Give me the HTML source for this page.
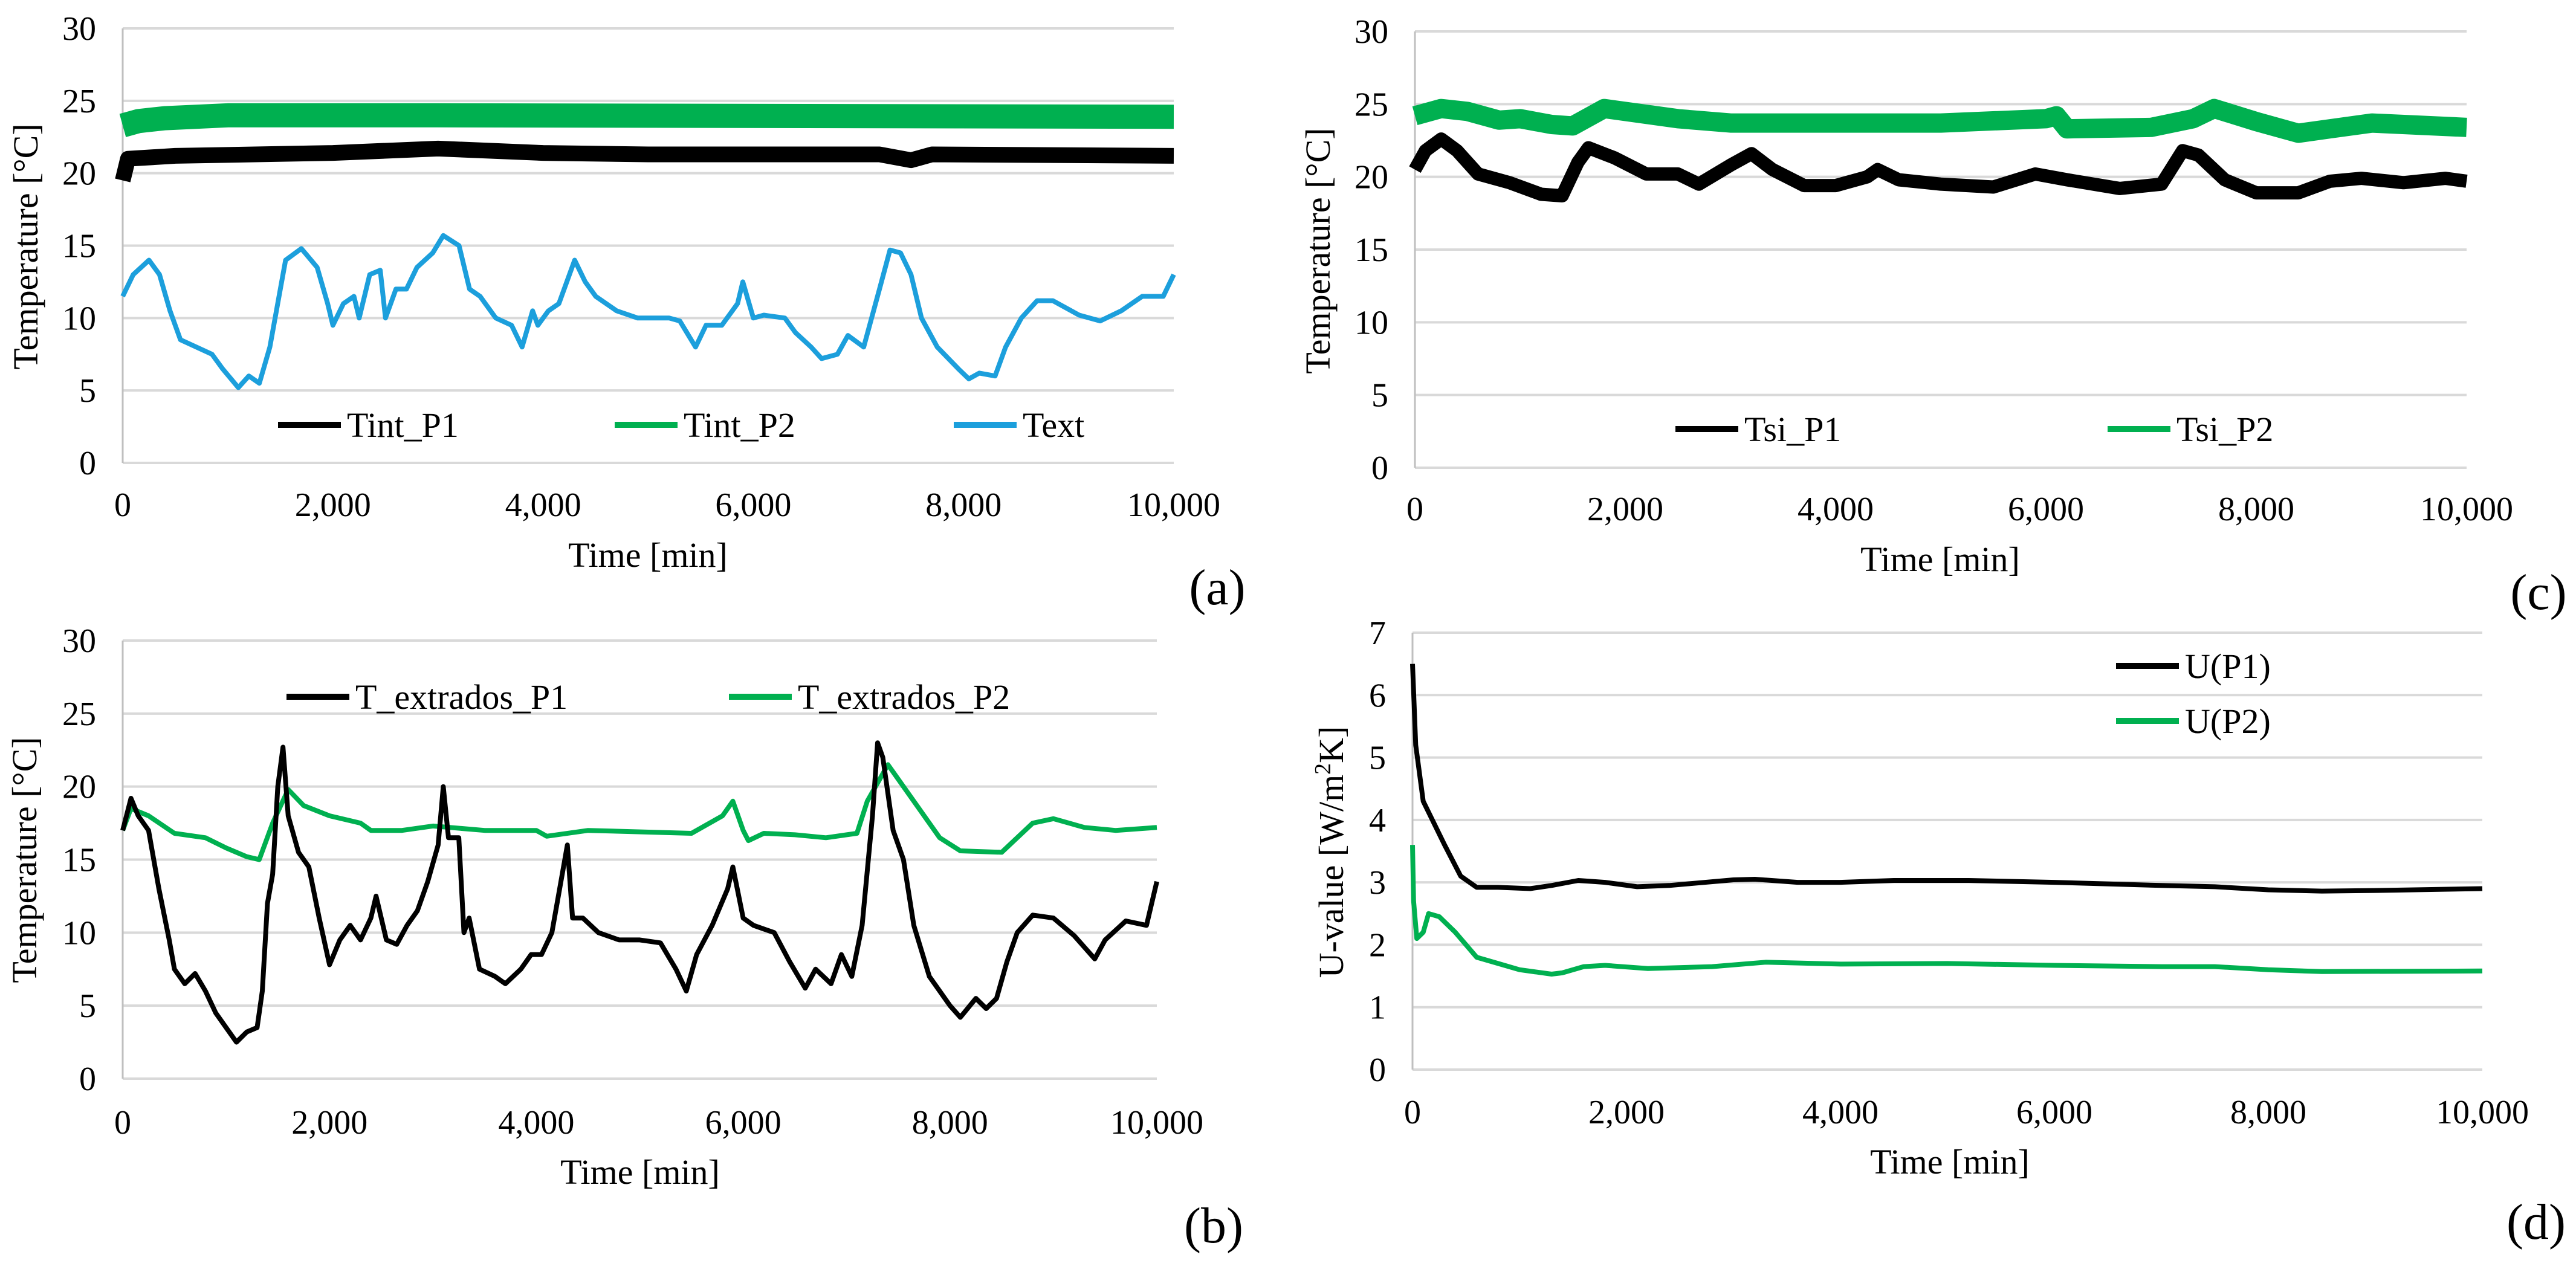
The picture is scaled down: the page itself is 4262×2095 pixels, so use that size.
<!DOCTYPE html>
<html><head><meta charset="utf-8"><style>
html,body{margin:0;padding:0;background:#fff}
svg{display:block;font-family:"Liberation Serif",serif}
</style></head><body>
<svg id="c" width="4262" height="2095" viewBox="0 0 4262 2095"></svg>
<script>
// ---- data (x in minutes) ----
const textX=[0,100,250,350,450,550,700,850,950,1100,1200,1300,1400,1500,1550,1700,1850,1950,2000,2100,2200,2250,2350,2450,2500,2600,2700,2800,2950,3050,3200,3300,3400,3550,3700,3800,3900,3950,4050,4150,4300,4400,4500,4700,4900,5200,5300,5450,5550,5700,5850,5900,6000,6100,6300,6400,6550,6650,6800,6900,7050,7200,7300,7400,7500,7600,7750,7950,8050,8150,8300,8400,8550,8700,8850,9100,9300,9500,9700,9900,10000];
const textY=[11.5,13,14,13,10.5,8.5,8,7.5,6.5,5.2,6,5.5,8,12,14,14.8,13.5,11,9.5,11,11.5,10,13,13.3,10,12,12,13.5,14.5,15.7,15,12,11.5,10,9.5,8,10.5,9.5,10.5,11,14,12.5,11.5,10.5,10,10,9.8,8,9.5,9.5,11,12.5,10,10.2,10,9,8,7.2,7.5,8.8,8,12,14.7,14.5,13,10,8,6.5,5.8,6.2,6,8,10,11.2,11.2,10.2,9.8,10.5,11.5,11.5,13];
const tintP2X=[0,150,400,1000,3000,10000];
const tintP2Y=[23.3,23.6,23.8,24,24,23.9];
const tintP1X=[0,50,500,2000,3000,4000,5000,7200,7500,7700,10000];
const tintP1Y=[19.5,21,21.2,21.4,21.7,21.4,21.3,21.3,20.9,21.3,21.2];
const tsiP2X=[0,250,500,800,1000,1300,1500,1800,2500,3000,5000,6000,6100,6200,7000,7400,7600,8000,8400,8700,9100,10000];
const tsiP2Y=[24.2,24.7,24.5,23.9,24.0,23.6,23.5,24.7,24,23.7,23.7,24.0,24.2,23.3,23.4,24,24.7,23.8,23,23.3,23.7,23.4];
const tsiP1X=[0,100,250,400,600,900,1200,1400,1550,1650,1900,2200,2500,2700,3000,3200,3400,3700,4000,4300,4400,4600,5000,5500,5900,6200,6700,7100,7300,7450,7700,8000,8400,8700,9000,9400,9800,10000];
const tsiP1Y=[20.5,21.8,22.6,21.8,20.2,19.6,18.8,18.7,21,22,21.3,20.2,20.2,19.5,20.8,21.6,20.5,19.4,19.4,20,20.5,19.8,19.5,19.3,20.2,19.8,19.2,19.5,21.8,21.5,19.8,18.9,18.9,19.7,19.9,19.6,19.9,19.7];
const extP1X=[0,80,150,250,350,450,500,600,700,800,900,1000,1100,1200,1300,1350,1400,1450,1500,1550,1600,1700,1800,1900,2000,2100,2200,2300,2400,2450,2550,2650,2750,2850,2950,3050,3100,3150,3250,3300,3350,3450,3600,3700,3850,3950,4050,4150,4250,4300,4350,4450,4600,4800,5000,5200,5350,5450,5550,5700,5850,5900,6000,6100,6300,6450,6600,6700,6850,6950,7050,7150,7250,7300,7350,7450,7550,7650,7800,8000,8100,8250,8350,8450,8550,8650,8800,9000,9200,9400,9500,9700,9900,10000];
const extP1Y=[17,19.2,18,17,13,9.5,7.5,6.5,7.2,6,4.5,3.5,2.5,3.2,3.5,6,12,14,20,22.7,18,15.5,14.5,11,7.8,9.5,10.5,9.5,11,12.5,9.5,9.2,10.5,11.5,13.5,16,20,16.5,16.5,10,11,7.5,7,6.5,7.5,8.5,8.5,10,14,16,11,11,10,9.5,9.5,9.3,7.5,6,8.5,10.5,13,14.5,11,10.5,10,8,6.2,7.5,6.5,8.5,7,10.5,18,23,22,17,15,10.5,7,5,4.2,5.5,4.8,5.5,8,10,11.2,11,9.8,8.2,9.5,10.8,10.5,13.5];
const extP2X=[0,80,250,500,800,1000,1200,1320,1450,1600,1750,2000,2300,2400,2700,3000,3500,4000,4100,4500,5500,5800,5900,6000,6050,6200,6500,6800,7100,7200,7400,7600,7900,8100,8500,8800,9000,9300,9600,10000];
const extP2Y=[17,18.5,18,16.8,16.5,15.8,15.2,15,17.5,19.8,18.7,18,17.5,17,17,17.3,17,17,16.6,17,16.8,18,19,17,16.3,16.8,16.7,16.5,16.8,19,21.5,19.5,16.5,15.6,15.5,17.5,17.8,17.2,17,17.2];
const uP1X=[0,30,100,300,450,600,800,1100,1300,1550,1800,2100,2400,2600,3000,3200,3600,4000,4500,5200,6000,7000,7500,8000,8500,9000,10000];
const uP1Y=[6.5,5.2,4.3,3.6,3.1,2.92,2.92,2.9,2.95,3.03,3.0,2.93,2.95,2.98,3.04,3.05,3.0,3.0,3.03,3.03,3.0,2.95,2.93,2.88,2.86,2.87,2.9];
const uP2X=[0,10,40,100,150,250,400,600,800,1000,1300,1400,1600,1800,2200,2800,3300,4000,5000,6000,7000,7500,8000,8500,10000];
const uP2Y=[3.6,2.7,2.1,2.2,2.5,2.45,2.2,1.8,1.7,1.6,1.53,1.55,1.65,1.67,1.62,1.65,1.72,1.69,1.7,1.67,1.65,1.65,1.6,1.57,1.58];
const xTicks=[0,2000,4000,6000,8000,10000];
const xTickLabels=["0","2,000","4,000","6,000","8,000","10,000"];

const NS="http://www.w3.org/2000/svg";
const svg=document.getElementById('c');
function mk(tag,attrs,parent){const e=document.createElementNS(NS,tag);for(const k in attrs)e.setAttribute(k,attrs[k]);(parent||svg).appendChild(e);return e;}
const GREEN="#00b050",BLUE="#1c9fdc";

function panel(p){
  const g=mk('g',{});
  
  
  const sx=v=>p.x0+(v/10000)*(p.x1-p.x0);
  const sy=v=>p.y0-(v/p.ymax)*(p.y0-p.yTop);
  for(let v=0;v<=p.ymax;v+=p.ystep){
    const gl=mk('line',{x1:p.x0,x2:p.x1,y1:sy(v),y2:sy(v),stroke:'#d9d9d9','stroke-width':4},g);
    
    
    const t=mk('text',{x:p.x0-44,y:sy(v)+19,'text-anchor':'end','font-size':56,fill:'#000'},g);
    t.textContent=String(v);
    
    
  }
  const ax=mk('line',{x1:p.x0,x2:p.x0,y1:p.yTop,y2:p.y0,stroke:'#bfbfbf','stroke-width':3},g);
  
  
  xTicks.forEach((v,i)=>{
    const t=mk('text',{x:sx(v),y:p.tickY,'text-anchor':'middle','font-size':56},g);
    t.textContent=xTickLabels[i];
    
    
  });
  const xt=mk('text',{x:p.xtX,y:p.xtY,'text-anchor':'middle','font-size':58},g);
  xt.textContent='Time [min]';
  
  
  const yt=mk('text',{x:0,y:0,'text-anchor':'middle','font-size':58,transform:`translate(${p.ytX},${p.ytY}) rotate(-90)`},g);
  yt.innerHTML=p.ytitle;
  
  
  p.series.forEach(s=>{
    const d=s.x.map((v,i)=>(i?'L':'M')+sx(v).toFixed(1)+','+sy(s.y[i]).toFixed(1)).join(' ');
    const path=mk('path',{d:d,fill:'none',stroke:s.color,'stroke-width':s.w,'stroke-linejoin':'round','stroke-linecap':'butt'},g);
    
    
  });
  p.legend.forEach(l=>{
    const lg=mk('line',{x1:l.lx,x2:l.lx+104,y1:l.y,y2:l.y,stroke:l.color,'stroke-width':10},g);
    
    
    const t=mk('text',{x:l.lx+114,y:l.y+20,'font-size':58},g);
    t.innerHTML=l.label;
    
    
  });
  const pl=mk('text',{x:p.plX,y:p.plY,'text-anchor':'middle','font-size':84},g);
  pl.textContent=p.plabel;
  
  
}

panel({name:'chart-a',x0:203,x1:1942,yTop:47,y0:766,ymax:30,ystep:5,tickY:854,xtX:1072,xtY:938,ytX:62,ytY:408,ytitle:'Temperature [°C]',plX:2014,plY:1000,plabel:'(a)',
 series:[{id:'tint-p2',x:tintP2X,y:tintP2Y,color:GREEN,w:40},{id:'tint-p1',x:tintP1X,y:tintP1Y,color:'#000',w:26},{id:'text',x:textX,y:textY,color:BLUE,w:8}],
 legend:[{lx:460,y:703,color:'#000',label:'Tint_P1'},{lx:1017,y:703,color:GREEN,label:'Tint_P2'},{lx:1578,y:703,color:BLUE,label:'Text'}]});
panel({name:'chart-c',x0:2341,x1:4081,yTop:52,y0:774,ymax:30,ystep:5,tickY:861,xtX:3210,xtY:945,ytX:2200,ytY:415,ytitle:'Temperature [°C]',plX:4200,plY:1008,plabel:'(c)',
 series:[{id:'tsi-p2',x:tsiP2X,y:tsiP2Y,color:GREEN,w:32},{id:'tsi-p1',x:tsiP1X,y:tsiP1Y,color:'#000',w:22}],
 legend:[{lx:2772,y:710,color:'#000',label:'Tsi_P1'},{lx:3487,y:710,color:GREEN,label:'Tsi_P2'}]});
panel({name:'chart-b',x0:203,x1:1914,yTop:1060,y0:1785,ymax:30,ystep:5,tickY:1876,xtX:1059,xtY:1959,ytX:60,ytY:1423,ytitle:'Temperature [°C]',plX:2008,plY:2056,plabel:'(b)',
 series:[{id:'t-extrados-p2',x:extP2X,y:extP2Y,color:GREEN,w:8},{id:'t-extrados-p1',x:extP1X,y:extP1Y,color:'#000',w:8}],
 legend:[{lx:474,y:1153,color:'#000',label:'T_extrados_P1'},{lx:1206,y:1153,color:GREEN,label:'T_extrados_P2'}]});
panel({name:'chart-d',x0:2337,x1:4107,yTop:1047,y0:1770,ymax:7,ystep:1,tickY:1859,xtX:3226,xtY:1942,ytX:2222,ytY:1410,ytitle:'U-value [W/m<tspan baseline-shift="super" font-size="38">2</tspan>K]',plX:4196,plY:2050,plabel:'(d)',
 series:[{id:'u-p2',x:uP2X,y:uP2Y,color:GREEN,w:8},{id:'u-p1',x:uP1X,y:uP1Y,color:'#000',w:8}],
 legend:[{lx:3501,y:1102,color:'#000',label:'U(P1)'},{lx:3501,y:1193,color:GREEN,label:'U(P2)'}]});
</script>
</body></html>
